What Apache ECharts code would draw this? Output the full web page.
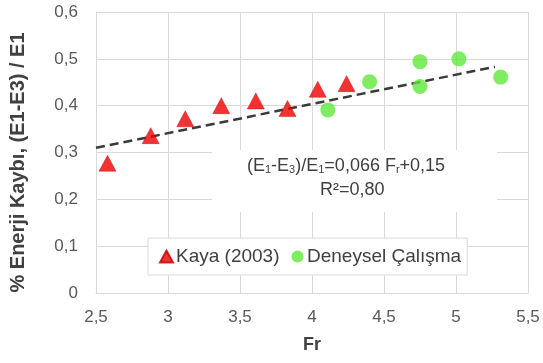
<!DOCTYPE html>
<html>
<head>
<meta charset="utf-8">
<script src="https://cdn.jsdelivr.net/npm/echarts@6/dist/echarts.min.js"></script>
<style>
  html, body { margin: 0; padding: 0; background: #fff; }
  #chart { width: 543px; height: 363px; }
</style>
</head>
<body>
<div id="chart"></div>
<script>
// Kaya (2003) measurements
var kayaFr   = [2.58, 2.88, 3.12, 3.37, 3.61, 3.83, 4.04, 4.24];
var kayaLoss = [0.277, 0.336, 0.372, 0.400, 0.410, 0.394, 0.435, 0.447];

// Experimental measurements (Deneysel Çalışma)
var expFr   = [4.11, 4.40, 4.75, 4.75, 5.02, 5.31];
var expLoss = [0.391, 0.451, 0.494, 0.441, 0.500, 0.461];

// Linear trend line end points
var trendFr   = [2.5, 5.27];
var trendLoss = [0.31, 0.483];

// Axis ticks
var xTicks = [2.5, 3, 3.5, 4, 4.5, 5, 5.5];
var yTicks = [0, 0.1, 0.2, 0.3, 0.4, 0.5, 0.6];

function pairs(xs, ys) {
  return xs.map(function (x, i) { return [x, ys[i]]; });
}
function comma(v) {
  return String(Math.round(v * 10) / 10).replace('.', ',');
}

var FONT = 'Liberation Sans, Arial, sans-serif';
var chart = echarts.init(document.getElementById('chart'), null, { renderer: 'canvas' });

chart.setOption({
  animation: false,
  backgroundColor: '#ffffff',
  grid: { left: 96, right: 15, top: 12, bottom: 70, containLabel: false },
  xAxis: {
    type: 'value',
    min: xTicks[0], max: xTicks[xTicks.length - 1], interval: 0.5,
    name: 'Fr', nameLocation: 'middle', nameGap: 43,
    nameTextStyle: { fontFamily: FONT, fontSize: 18, fontWeight: 'bold', color: '#404040' },
    axisLine: { show: true, lineStyle: { color: '#d9d9d9', width: 1 } },
    axisTick: { show: false },
    axisLabel: { margin: 16, fontFamily: FONT, fontSize: 17, color: '#595959', formatter: comma },
    splitLine: { show: true, lineStyle: { color: '#d9d9d9', width: 1 } }
  },
  yAxis: {
    type: 'value',
    min: yTicks[0], max: yTicks[yTicks.length - 1], interval: 0.1,
    name: '% Enerji Kaybı, (E1-E3) / E1', nameLocation: 'middle', nameGap: 68, nameRotate: 90,
    nameTextStyle: {
      fontFamily: FONT, fontSize: 20, fontWeight: 'bold', color: '#404040',
      padding: [0, 20, 0, 0]
    },
    axisLine: { show: true, lineStyle: { color: '#d9d9d9', width: 1 } },
    axisTick: { show: false },
    axisLabel: { margin: 18, fontFamily: FONT, fontSize: 17, color: '#595959', formatter: comma },
    splitLine: { show: true, lineStyle: { color: '#d9d9d9', width: 1 } }
  },
  legend: {
    left: 148, top: 238, width: 330,
    padding: [9, 6, 9, 11],
    itemGap: 12, itemWidth: 13, itemHeight: 12,
    backgroundColor: '#ffffff',
    borderColor: '#d9d9d9', borderWidth: 1,
    textStyle: { fontFamily: FONT, fontSize: 19, color: '#404040', padding: [0, 0, 0, -2] },
    data: [
      { name: 'Kaya (2003)', icon: 'triangle' },
      { name: 'Deneysel Çalışma', icon: 'circle', itemStyle: { color: '#5fe83a' } }
    ]
  },
  graphic: [
    {
      type: 'rect', z: 1, silent: true,
      shape: { x: 212, y: 150, width: 285, height: 62 },
      style: { fill: '#ffffff' }
    },
    {
      type: 'text', z: 1, silent: true,
      left: 247, top: 157,
      style: {
        text: '{m|(E}{s|1}{m|-E}{s|3}{m|)/E}{s|1}{m|=0,066 F}{s|r}{m|+0,15}',
        rich: {
          m: { fontFamily: FONT, fontSize: 18, fill: '#404040', verticalAlign: 'bottom', lineHeight: 22 },
          s: { fontFamily: FONT, fontSize: 11, fill: '#404040', verticalAlign: 'bottom', lineHeight: 16 }
        }
      }
    },
    {
      type: 'text', z: 1, silent: true,
      left: 320, top: 181,
      style: { text: 'R²=0,80', fontFamily: FONT, fontSize: 18, fill: '#404040' }
    }
  ],
  series: [
    {
      name: 'Trend', type: 'line', z: 3,
      data: pairs(trendFr, trendLoss),
      symbol: 'none', silent: true,
      lineStyle: { color: '#3a3a3a', width: 2.5, type: [9, 5] }
    },
    {
      name: 'Kaya (2003)', type: 'scatter', z: 4,
      data: pairs(kayaFr, kayaLoss),
      symbol: 'triangle', symbolSize: [17, 16],
      itemStyle: { color: '#ee0000', borderColor: '#c00000', borderWidth: 0.5 }
    },
    {
      name: 'Deneysel Çalışma', type: 'scatter', z: 4,
      data: pairs(expFr, expLoss),
      symbol: 'circle', symbolSize: 15,
      itemStyle: { color: '#5fe83a' }
    }
  ]
});
</script>
</body>
</html>
